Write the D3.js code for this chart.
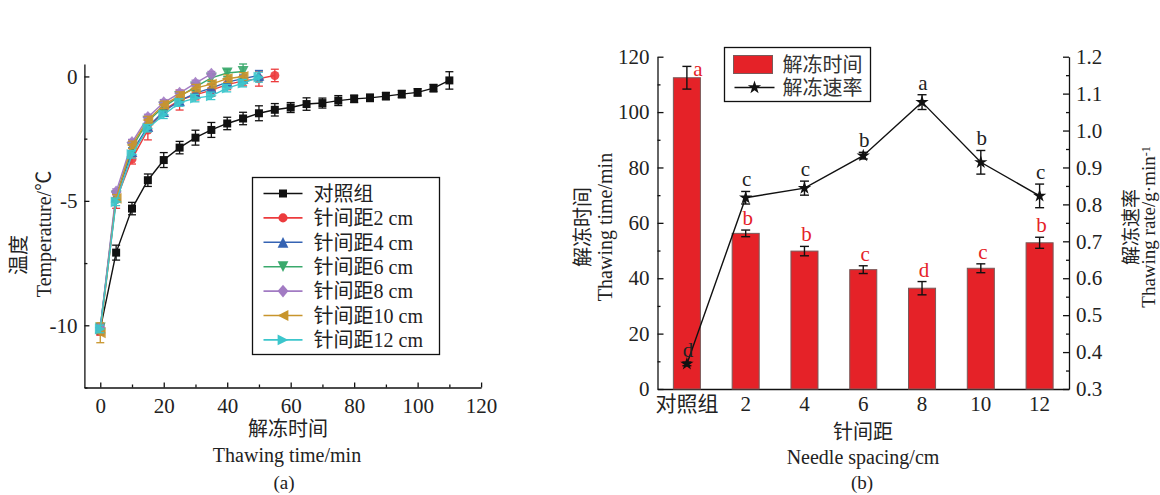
<!DOCTYPE html>
<html>
<head>
<meta charset="utf-8">
<script src="https://cdn.jsdelivr.net/npm/d3@7"></script>
<style>
    body { margin: 0; background: #fff; }
    svg text { font-family: 'Liberation Serif', 'Noto Sans CJK SC', serif; fill: #222; }
    .axis path, .axis line { stroke: #111; stroke-width: 1.3px; }
</style>
</head>
<body>
<svg id="chart" width="1160" height="495"></svg>
<script>
// ---- (a) temperature curves ----
var seriesNames = ['对照组', '针间距2 cm', '针间距4 cm', '针间距6 cm', '针间距8 cm', '针间距10 cm', '针间距12 cm'];
var seriesColors = ['#111111', '#ec3b3d', '#3563b3', '#3aa96c', '#a27bc3', '#c8952c', '#3cc6cc'];
var seriesSymbols = ['square', 'circle', 'up', 'down', 'diamond', 'left', 'right'];

var tempControl = [-10.15, -7.08, -5.31, -4.17, -3.36, -2.86, -2.46, -2.15, -1.89, -1.69, -1.48, -1.34,
    -1.25, -1.11, -1.07, -0.97, -0.90, -0.86, -0.79, -0.71, -0.64, -0.47, -0.16];
var errControl = [0.2, 0.3, 0.25, 0.25, 0.3, 0.25, 0.3, 0.3, 0.25, 0.25, 0.3, 0.25,
    0.2, 0.25, 0.2, 0.2, 0.15, 0.15, 0.15, 0.15, 0.15, 0.15, 0.35];
var temp2 = [-10.2, -4.95, -3.32, -2.15, -1.35, -0.95, -0.74, -0.55, -0.33, -0.18, -0.09, 0.04];
var err2 = [0.2, 0.35, 0.2, 0.4, 0.25, 0.4, 0.2, 0.25, 0.2, 0.2, 0.3, 0.25];
var temp4 = [-10.1, -4.85, -3.02, -2.02, -1.41, -0.98, -0.67, -0.47, -0.23, -0.09, 0.04];
var err4 = [0.15, 0.15, 0.15, 0.15, 0.15, 0.15, 0.15, 0.15, 0.15, 0.15, 0.2];
var temp6 = [-10.1, -4.8, -2.85, -1.8, -1.22, -0.8, -0.42, -0.06, 0.14, 0.2];
var err6 = [0.15, 0.15, 0.15, 0.15, 0.15, 0.15, 0.15, 0.15, 0.15, 0.3];
var temp8 = [-10.1, -4.64, -2.65, -1.64, -1.05, -0.67, -0.27, 0.1];
var err8 = [0.15, 0.12, 0.12, 0.12, 0.12, 0.12, 0.12, 0.1];
var temp10 = [-10.3, -4.9, -2.75, -1.75, -1.14, -0.77, -0.47, -0.31, -0.09, 0.0];
var err10 = [0.4, 0.15, 0.15, 0.15, 0.15, 0.15, 0.15, 0.15, 0.15, 0.15];
var temp12 = [-10.15, -5.04, -3.13, -2.08, -1.54, -1.05, -0.87, -0.78, -0.47, -0.27, -0.03];
var err12 = [0.15, 0.15, 0.15, 0.15, 0.15, 0.15, 0.15, 0.15, 0.15, 0.15, 0.2];
var timeStep = 5;
var timeTicks = [0, 20, 40, 60, 80, 100, 120];
var tempTicks = [0, -5, -10];

// ---- (b) thawing time bars + rate line ----
var spacingCats = ['对照组', '2', '4', '6', '8', '10', '12'];
var thawTime = [112.4, 56.2, 49.8, 43.1, 36.4, 43.6, 52.8];
var thawTimeErr = [4.1, 1.2, 1.7, 1.4, 2.4, 1.6, 2.0];
var thawTimeLetters = ['a', 'b', 'b', 'c', 'd', 'c', 'b'];
var thawRate = [0.368, 0.818, 0.844, 0.932, 1.077, 0.914, 0.823];
var thawRateErr = [0.005, 0.017, 0.019, 0.009, 0.02, 0.032, 0.032];
var thawRateLetters = ['d', 'c', 'c', 'b', 'a', 'b', 'c'];
var timeAxisTicks = [0, 20, 40, 60, 80, 100, 120];
var rateAxisTicks = [0.3, 0.4, 0.5, 0.6, 0.7, 0.8, 0.9, 1.0, 1.1, 1.2];

var svg = d3.select('#chart');
var TICK_FS = '21px', TITLE_FS = '20px';

function symbolPath(kind, size){
    var s = size;
    if (kind == 'square') return d3.symbol(d3.symbolSquare, s * s)();
    if (kind == 'circle') return d3.symbol(d3.symbolCircle, s * s * 0.8)();
    if (kind == 'diamond') return 'M0,' + (-s * 0.7) + 'L' + (s * 0.6) + ',0L0,' + (s * 0.7) + 'L' + (-s * 0.6) + ',0Z';
    var h = s * 0.6;
    if (kind == 'up') return 'M0,' + (-h) + 'L' + h + ',' + h + 'L' + (-h) + ',' + h + 'Z';
    if (kind == 'down') return 'M0,' + h + 'L' + h + ',' + (-h) + 'L' + (-h) + ',' + (-h) + 'Z';
    if (kind == 'left') return 'M' + (-h) + ',0L' + h + ',' + (-h) + 'L' + h + ',' + h + 'Z';
    return 'M' + h + ',0L' + (-h) + ',' + (-h) + 'L' + (-h) + ',' + h + 'Z';
}

function drawPanelA(){
    var x = d3.scaleLinear().domain([-5, 120]).range([84.4, 481.1]);
    var y = d3.scaleLinear().domain([-12.5, 0.5]).range([387.5, 64]);

    var gx = svg.append('g').attr('class', 'axis').attr('transform', 'translate(0,' + y(-12.5) + ')')
        .call(d3.axisBottom(x).tickValues(timeTicks).tickSize(-5).tickSizeOuter(0).tickPadding(11));
    svg.append('g').attr('class', 'axis').attr('transform', 'translate(0,' + y(-12.5) + ')')
        .call(d3.axisBottom(x).tickValues([10, 30, 50, 70, 90, 110]).tickSize(-3).tickSizeOuter(0).tickFormat(''))
        .select('.domain').remove();
    var gy = svg.append('g').attr('class', 'axis').attr('transform', 'translate(' + x(-5) + ',0)')
        .call(d3.axisLeft(y).tickValues(tempTicks).tickSize(-5).tickSizeOuter(0).tickPadding(7)
            .tickFormat(function(d){ return d < 0 ? '-' + (-d) : d; }));
    svg.append('g').attr('class', 'axis').attr('transform', 'translate(' + x(-5) + ',0)')
        .call(d3.axisLeft(y).tickValues([-2.5, -7.5, -12.5]).tickSize(-3).tickSizeOuter(0).tickFormat(''))
        .select('.domain').remove();
    gx.selectAll('text').style('font-size', TICK_FS).attr('fill', '#222');
    gy.selectAll('text').style('font-size', TICK_FS).attr('fill', '#222');

    var temps = [tempControl, temp2, temp4, temp6, temp8, temp10, temp12];
    var errs = [errControl, err2, err4, err6, err8, err10, err12];
    var line = d3.line().x(function(d){ return x(d.t); }).y(function(d){ return y(d.v); });

    temps.forEach(function(vals, i){
        var data = vals.map(function(v, j){ return {t: j * timeStep, v: v, e: errs[i][j]}; });
        var g = svg.append('g').attr('class', 'series-' + i);
        var col = seriesColors[i];
        g.append('path').datum(data).attr('d', line)
            .attr('fill', 'none').attr('stroke', col).attr('stroke-width', 1.4);
        var eb = g.selectAll('g.err').data(data).enter().append('g').attr('class', 'err');
        eb.append('line')
            .attr('x1', function(d){ return x(d.t); }).attr('x2', function(d){ return x(d.t); })
            .attr('y1', function(d){ return y(d.v - d.e); }).attr('y2', function(d){ return y(d.v + d.e); })
            .attr('stroke', col).attr('stroke-width', 1.3);
        [-1, 1].forEach(function(sgn){
            eb.append('line')
                .attr('x1', function(d){ return x(d.t) - 4; }).attr('x2', function(d){ return x(d.t) + 4; })
                .attr('y1', function(d){ return y(d.v + sgn * d.e); }).attr('y2', function(d){ return y(d.v + sgn * d.e); })
                .attr('stroke', col).attr('stroke-width', 1.3);
        });
        g.selectAll('path.mk').data(data).enter().append('path').attr('class', 'mk')
            .attr('d', symbolPath(seriesSymbols[i], i == 0 ? 8 : 9))
            .attr('transform', function(d){ return 'translate(' + x(d.t) + ',' + y(d.v) + ')'; })
            .attr('fill', col).attr('opacity', i == 0 ? 1 : 0.9);
    });

    // legend
    var lg = svg.append('g').attr('transform', 'translate(252.5,177.5)');
    lg.append('rect').attr('width', 187).attr('height', 177)
        .attr('fill', '#fff').attr('stroke', '#111').attr('stroke-width', 1.3);
    seriesNames.forEach(function(name, i){
        var cy = 16 + i * 24.4;
        lg.append('line').attr('x1', 11).attr('x2', 50).attr('y1', cy).attr('y2', cy)
            .attr('stroke', seriesColors[i]).attr('stroke-width', 1.6);
        lg.append('path').attr('d', symbolPath(seriesSymbols[i], i == 0 ? 8 : 9))
            .attr('transform', 'translate(30.5,' + cy + ')').attr('fill', seriesColors[i]);
        lg.append('text').attr('x', 61).attr('y', cy).attr('dy', '0.36em')
            .style('font-size', '20px').attr('fill', '#333').text(name);
    });

    svg.append('text').attr('transform', 'translate(26,255) rotate(-90)').attr('text-anchor', 'middle')
        .style('font-size', TITLE_FS).text('温度');
    svg.append('text').attr('transform', 'translate(51,234) rotate(-90)').attr('text-anchor', 'middle')
        .style('font-size', TITLE_FS).text('Temperature/℃');
    svg.append('text').attr('x', 288).attr('y', 436).attr('text-anchor', 'middle')
        .style('font-size', TITLE_FS).text('解冻时间');
    svg.append('text').attr('x', 287).attr('y', 462).attr('text-anchor', 'middle')
        .style('font-size', TITLE_FS).text('Thawing time/min');
    svg.append('text').attr('x', 284).attr('y', 489).attr('text-anchor', 'middle')
        .style('font-size', '19px').text('(a)');
}

function drawPanelB(){
    var x = d3.scaleBand().domain(spacingCats).range([657.5, 1069]).paddingInner(0.54).paddingOuter(0.27);
    var yL = d3.scaleLinear().domain([0, 120]).range([389, 56.7]);
    var yR = d3.scaleLinear().domain([0.3, 1.2]).range([389, 56.7]);
    var red = '#e52228';

    var gx = svg.append('g').attr('class', 'axis').attr('transform', 'translate(0,389)')
        .call(d3.axisBottom(x).tickSize(0).tickSizeOuter(0).tickPadding(7));
    gx.selectAll('text').style('font-size', TICK_FS).attr('fill', '#222');

    var gl = svg.append('g').attr('class', 'axis').attr('transform', 'translate(657.5,0)')
        .call(d3.axisLeft(yL).tickValues(timeAxisTicks).tickSize(-6).tickSizeOuter(0).tickPadding(8));
    svg.append('g').attr('class', 'axis').attr('transform', 'translate(657.5,0)')
        .call(d3.axisLeft(yL).tickValues([10, 30, 50, 70, 90, 110]).tickSize(-3).tickSizeOuter(0).tickFormat(''))
        .select('.domain').remove();
    var gr = svg.append('g').attr('class', 'axis').attr('transform', 'translate(1069,0)')
        .call(d3.axisRight(yR).tickValues(rateAxisTicks).tickSize(-6).tickSizeOuter(0).tickPadding(7)
            .tickFormat(d3.format('.1f')));
    svg.append('g').attr('class', 'axis').attr('transform', 'translate(1069,0)')
        .call(d3.axisRight(yR).tickValues(d3.range(0.35, 1.2, 0.1)).tickSize(-3).tickSizeOuter(0).tickFormat(''))
        .select('.domain').remove();
    gl.selectAll('text').style('font-size', TICK_FS).attr('fill', '#222');
    gr.selectAll('text').style('font-size', TICK_FS).attr('fill', '#222');

    var data = spacingCats.map(function(c, i){
        return {c: c, t: thawTime[i], te: thawTimeErr[i], tl: thawTimeLetters[i],
            r: thawRate[i], re: thawRateErr[i], rl: thawRateLetters[i]};
    });
    var cx = function(d){ return x(d.c) + x.bandwidth() / 2; };

    svg.selectAll('rect.bar').data(data).enter().append('rect').attr('class', 'bar')
        .attr('x', function(d){ return x(d.c); }).attr('width', x.bandwidth())
        .attr('y', function(d){ return yL(d.t); }).attr('height', function(d){ return 389 - yL(d.t); })
        .attr('fill', red).attr('stroke', '#7a5a5a').attr('stroke-width', 1);

    function errBars(cls, yf, lo, hi){
        var g = svg.selectAll('g.' + cls).data(data).enter().append('g').attr('class', cls);
        g.append('line').attr('x1', cx).attr('x2', cx)
            .attr('y1', function(d){ return yf(lo(d)); }).attr('y2', function(d){ return yf(hi(d)); })
            .attr('stroke', '#111').attr('stroke-width', 1.4);
        [lo, hi].forEach(function(f){
            g.append('line').attr('x1', function(d){ return cx(d) - 4.5; }).attr('x2', function(d){ return cx(d) + 4.5; })
                .attr('y1', function(d){ return yf(f(d)); }).attr('y2', function(d){ return yf(f(d)); })
                .attr('stroke', '#111').attr('stroke-width', 1.4);
        });
    }
    errBars('terr', yL, function(d){ return d.t - d.te; }, function(d){ return d.t + d.te; });

    var line = d3.line().x(cx).y(function(d){ return yR(d.r); });
    svg.append('path').datum(data).attr('d', line)
        .attr('fill', 'none').attr('stroke', '#111').attr('stroke-width', 1.4);
    errBars('rerr', yR, function(d){ return d.r - d.re; }, function(d){ return d.r + d.re; });
    svg.selectAll('path.star').data(data).enter().append('path').attr('class', 'star')
        .attr('d', d3.symbol(d3.symbolStar, 55))
        .attr('transform', function(d){ return 'translate(' + cx(d) + ',' + yR(d.r) + ')'; })
        .attr('fill', '#111');

    // significance letters
    svg.selectAll('text.tl').data(data).enter().append('text').attr('class', 'tl')
        .attr('x', function(d){
            var top = yL(d.t + d.te) - 5;
            return top - 14 < 56.7 ? cx(d) + 11 : cx(d) + 2;
        })
        .attr('y', function(d){
            var top = yL(d.t + d.te) - 5;
            return top - 14 < 56.7 ? yL(d.t + d.te) + 10 : top;
        })
        .attr('text-anchor', 'middle').attr('fill', red).style('fill', red)
        .style('font-size', '21px').text(function(d){ return d.tl; });
    svg.selectAll('text.rl').data(data).enter().append('text').attr('class', 'rl')
        .attr('x', function(d){ return cx(d) + 1; })
        .attr('y', function(d){ return yR(d.r + d.re) - 5; })
        .attr('text-anchor', 'middle').style('font-size', '21px').text(function(d){ return d.rl; });

    // legend
    var lg = svg.append('g').attr('transform', 'translate(724.5,47.5)');
    lg.append('rect').attr('width', 146).attr('height', 54)
        .attr('fill', '#fff').attr('stroke', '#111').attr('stroke-width', 1.3);
    lg.append('rect').attr('x', 9).attr('y', 8).attr('width', 39).attr('height', 18)
        .attr('fill', red).attr('stroke', '#7a5a5a');
    lg.append('text').attr('x', 58).attr('y', 17).attr('dy', '0.36em').style('font-size', '20px')
        .attr('fill', '#333').style('fill', '#333').text('解冻时间');
    lg.append('line').attr('x1', 10).attr('x2', 50).attr('y1', 40).attr('y2', 40)
        .attr('stroke', '#111').attr('stroke-width', 1.4);
    lg.append('path').attr('d', d3.symbol(d3.symbolStar, 55)).attr('transform', 'translate(30,40)').attr('fill', '#111');
    lg.append('text').attr('x', 58).attr('y', 40).attr('dy', '0.36em').style('font-size', '20px')
        .attr('fill', '#333').style('fill', '#333').text('解冻速率');

    svg.append('text').attr('transform', 'translate(590,227) rotate(-90)').attr('text-anchor', 'middle')
        .style('font-size', TITLE_FS).text('解冻时间');
    svg.append('text').attr('transform', 'translate(612,227) rotate(-90)').attr('text-anchor', 'middle')
        .style('font-size', TITLE_FS).text('Thawing  time/min');
    svg.append('text').attr('transform', 'translate(1138,227) rotate(-90)').attr('text-anchor', 'middle')
        .style('font-size', '19px').text('解冻速率');
    var rt = svg.append('text').attr('transform', 'translate(1155,227) rotate(-90)').attr('text-anchor', 'middle')
        .style('font-size', '19px');
    rt.append('tspan').text('Thawing  rate/g·min');
    rt.append('tspan').attr('dy', '-0.45em').style('font-size', '12px').text('-1');

    svg.append('text').attr('x', 863).attr('y', 439).attr('text-anchor', 'middle')
        .style('font-size', TITLE_FS).text('针间距');
    svg.append('text').attr('x', 863).attr('y', 464).attr('text-anchor', 'middle')
        .style('font-size', TITLE_FS).text('Needle  spacing/cm');
    svg.append('text').attr('x', 862).attr('y', 489).attr('text-anchor', 'middle')
        .style('font-size', '19px').text('(b)');
}

drawPanelA();
drawPanelB();
</script>
</body>
</html>
